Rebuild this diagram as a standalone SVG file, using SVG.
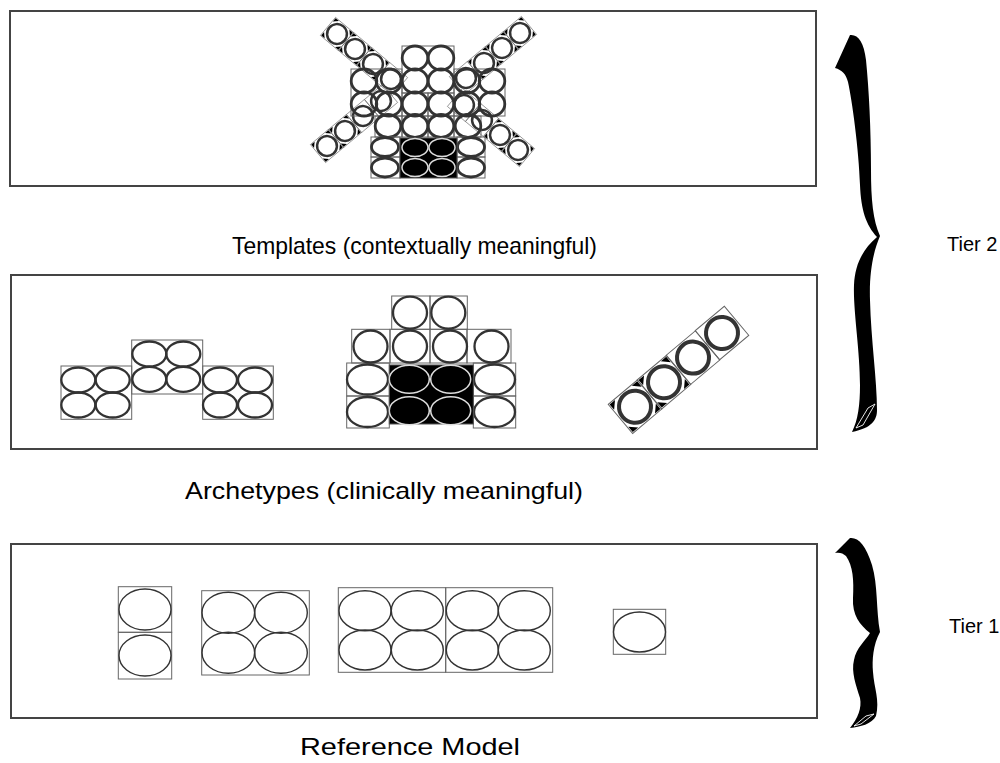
<svg xmlns="http://www.w3.org/2000/svg" xmlns:xlink="http://www.w3.org/1999/xlink" width="1000" height="763" viewBox="0 0 1000 763">
<style>
.frame{fill:none;stroke:#444;stroke-width:2}
.cell{fill:none;stroke:#666;stroke-width:1}
.ring{fill:none;stroke:#333;stroke-width:2.3}
.ringT{fill:none;stroke:#333;stroke-width:2.8}
.ringR{fill:none;stroke:#333;stroke-width:1.4}
.blk{fill:#000;stroke:#555;stroke-width:1}
.ringW{fill:#000;stroke:#ddd;stroke-width:1.5}
.lbl{font-family:"Liberation Sans",Arial,sans-serif;font-size:24px;fill:#000}
.tier{font-family:"Liberation Sans",Arial,sans-serif;font-size:20px;fill:#000}
.brace{fill:#000}
.glint{fill:none;stroke:#fff;stroke-width:0.9}
</style>
<defs>
<g id="c1">
<rect x="-19" y="-19" width="38" height="38" class="cell"/>
<path d="M-18,-18 h7 l-7,7z M18,-18 h-7 l7,7z M18,18 h-7 l7,-7z M-18,18 h7 l-7,-7z" fill="#000"/>
<circle r="16" fill="none" stroke="#333" stroke-width="4"/>
</g>
<g id="c0">
<rect x="-19" y="-19" width="38" height="38" class="cell"/>
<circle r="16" fill="none" stroke="#333" stroke-width="4"/>
</g>
</defs>

<g id="templates">
<rect class="frame" x="10" y="11" width="806" height="175"/>
<g id="chains">
<use xlink:href="#c1" transform="translate(337,34) rotate(40) scale(0.62)"/>
<use xlink:href="#c1" transform="translate(355,49) rotate(40) scale(0.62)"/>
<use xlink:href="#c1" transform="translate(373,64) rotate(40) scale(0.62)"/>
<use xlink:href="#c0" transform="translate(391,79) rotate(40) scale(0.62)"/>
<use xlink:href="#c1" transform="translate(520,33) rotate(-40) scale(0.62)"/>
<use xlink:href="#c1" transform="translate(502,48) rotate(-40) scale(0.62)"/>
<use xlink:href="#c1" transform="translate(484,63) rotate(-40) scale(0.62)"/>
<use xlink:href="#c0" transform="translate(466,78) rotate(-40) scale(0.62)"/>
<use xlink:href="#c1" transform="translate(327,146) rotate(-40) scale(0.62)"/>
<use xlink:href="#c1" transform="translate(345,131) rotate(-40) scale(0.62)"/>
<use xlink:href="#c0" transform="translate(363,116) rotate(-40) scale(0.62)"/>
<use xlink:href="#c0" transform="translate(381,101) rotate(-40) scale(0.62)"/>
<use xlink:href="#c1" transform="translate(518,150) rotate(40) scale(0.62)"/>
<use xlink:href="#c1" transform="translate(500,135) rotate(40) scale(0.62)"/>
<use xlink:href="#c0" transform="translate(482,120) rotate(40) scale(0.62)"/>
<use xlink:href="#c0" transform="translate(464,105) rotate(40) scale(0.62)"/>
</g>
<rect class="cell" x="402" y="46" width="52" height="47"/>
<rect class="cell" x="351" y="69" width="51" height="47"/>
<rect class="cell" x="454" y="69" width="51" height="47"/>
<rect class="cell" x="402" y="93" width="26" height="23"/>
<rect class="cell" x="428" y="93" width="26" height="23"/>
<rect class="cell" x="375" y="116" width="27" height="21"/>
<rect class="cell" x="402" y="116" width="26" height="21"/>
<rect class="cell" x="428" y="116" width="26" height="21"/>
<rect class="cell" x="454" y="116" width="27" height="21"/>
<ellipse class="ringT" cx="415" cy="58" rx="12.8" ry="12"/>
<ellipse class="ringT" cx="441" cy="58" rx="12.8" ry="12"/>
<ellipse class="ringT" cx="415" cy="81" rx="12.8" ry="12"/>
<ellipse class="ringT" cx="441" cy="81" rx="12.8" ry="12"/>
<ellipse class="ringT" cx="364" cy="81" rx="12.8" ry="12"/>
<ellipse class="ringT" cx="389" cy="81" rx="12.8" ry="12"/>
<ellipse class="ringT" cx="364" cy="104" rx="12.8" ry="12"/>
<ellipse class="ringT" cx="389" cy="104" rx="12.8" ry="12"/>
<ellipse class="ringT" cx="467" cy="81" rx="12.8" ry="12"/>
<ellipse class="ringT" cx="492" cy="81" rx="12.8" ry="12"/>
<ellipse class="ringT" cx="467" cy="104" rx="12.8" ry="12"/>
<ellipse class="ringT" cx="492" cy="104" rx="12.8" ry="12"/>
<ellipse class="ringT" cx="415" cy="104" rx="12.8" ry="12"/>
<ellipse class="ringT" cx="441" cy="104" rx="12.8" ry="12"/>
<ellipse class="ringT" cx="388" cy="126" rx="12.8" ry="11.5"/>
<ellipse class="ringT" cx="415" cy="126" rx="12.8" ry="11.5"/>
<ellipse class="ringT" cx="441" cy="126" rx="12.8" ry="11.5"/>
<ellipse class="ringT" cx="468" cy="126" rx="12.8" ry="11.5"/>
<rect class="cell" x="371" y="137" width="29" height="20"/>
<rect class="cell" x="371" y="157" width="29" height="21"/>
<rect class="cell" x="457" y="137" width="28" height="20"/>
<rect class="cell" x="457" y="157" width="28" height="21"/>
<ellipse class="ringT" cx="385" cy="147" rx="13.5" ry="9.5"/>
<ellipse class="ringT" cx="385" cy="167.5" rx="13.5" ry="9.5"/>
<ellipse class="ringT" cx="471" cy="147" rx="13.5" ry="9.5"/>
<ellipse class="ringT" cx="471" cy="167.5" rx="13.5" ry="9.5"/>
<rect class="blk" x="400" y="138" width="57" height="40"/>
<ellipse class="ringW" cx="415" cy="147.5" rx="13" ry="9"/>
<ellipse class="ringW" cx="442" cy="147.5" rx="13" ry="9"/>
<ellipse class="ringW" cx="415" cy="167.5" rx="13" ry="9"/>
<ellipse class="ringW" cx="442" cy="167.5" rx="13" ry="9"/>
</g>

<g id="archetypes">
<rect class="frame" x="11" y="275" width="806" height="174"/>
<g id="arch-left">
<rect class="cell" x="61" y="366" width="70.7" height="53.3"/>
<rect class="cell" x="131.7" y="340" width="71" height="54"/>
<rect class="cell" x="202.7" y="366" width="70.6" height="53.3"/>
<ellipse class="ring" cx="78.3" cy="380" rx="17" ry="12.5"/>
<ellipse class="ring" cx="112.7" cy="380" rx="17" ry="12.5"/>
<ellipse class="ring" cx="78.3" cy="405" rx="17" ry="12.5"/>
<ellipse class="ring" cx="112.7" cy="405" rx="17" ry="12.5"/>
<ellipse class="ring" cx="149.3" cy="354" rx="17" ry="12.5"/>
<ellipse class="ring" cx="183.3" cy="354" rx="17" ry="12.5"/>
<ellipse class="ring" cx="149.3" cy="379.3" rx="17" ry="12.5"/>
<ellipse class="ring" cx="183.3" cy="379.3" rx="17" ry="12.5"/>
<ellipse class="ring" cx="220" cy="380" rx="17" ry="12.5"/>
<ellipse class="ring" cx="255" cy="380" rx="17" ry="12.5"/>
<ellipse class="ring" cx="220" cy="405" rx="17" ry="12.5"/>
<ellipse class="ring" cx="255" cy="405" rx="17" ry="12.5"/>
</g>
<g id="arch-mid">
<rect class="cell" x="391.7" y="296" width="38.3" height="33.3"/>
<rect class="cell" x="430" y="296" width="37.3" height="33.3"/>
<rect class="cell" x="351.7" y="329.3" width="38.3" height="33.7"/>
<rect class="cell" x="390" y="329.3" width="40" height="33.7"/>
<rect class="cell" x="430" y="329.3" width="37" height="33.7"/>
<rect class="cell" x="467" y="329.3" width="44" height="33.7"/>
<rect class="cell" x="346.7" y="363" width="42.6" height="33"/>
<rect class="cell" x="346.7" y="396" width="42.6" height="32"/>
<rect class="cell" x="473.3" y="363" width="42.4" height="33"/>
<rect class="cell" x="473.3" y="396" width="42.4" height="32"/>
<ellipse class="ring" cx="410" cy="312.7" rx="17" ry="16"/>
<ellipse class="ring" cx="448.3" cy="312.7" rx="17" ry="16"/>
<ellipse class="ring" cx="370.5" cy="346.5" rx="17" ry="16"/>
<ellipse class="ring" cx="410" cy="346.5" rx="17" ry="16"/>
<ellipse class="ring" cx="450" cy="346.5" rx="17" ry="16"/>
<ellipse class="ring" cx="491.5" cy="346.5" rx="17" ry="16"/>
<ellipse class="ring" cx="367.5" cy="379.5" rx="20.5" ry="15"/>
<ellipse class="ring" cx="367.5" cy="412" rx="20.5" ry="15"/>
<ellipse class="ring" cx="494.5" cy="379.5" rx="20.5" ry="15"/>
<ellipse class="ring" cx="494.5" cy="412" rx="20.5" ry="15"/>
<rect class="blk" x="389.3" y="365" width="84" height="59"/>
<ellipse class="ringW" cx="409.3" cy="379.3" rx="20" ry="14"/>
<ellipse class="ringW" cx="450.7" cy="379.3" rx="20" ry="14"/>
<ellipse class="ringW" cx="409.3" cy="410.7" rx="20" ry="14"/>
<ellipse class="ringW" cx="450.7" cy="410.7" rx="20" ry="14"/>
</g>
<g id="arch-right">
<use xlink:href="#c1" transform="translate(635,406.7) rotate(-40)"/>
<use xlink:href="#c1" transform="translate(664,382.2) rotate(-40)"/>
<use xlink:href="#c0" transform="translate(693,357.6) rotate(-40)"/>
<use xlink:href="#c0" transform="translate(722,333) rotate(-40)"/>
</g>
</g>

<g id="reference-model">
<rect class="frame" x="11" y="544" width="806" height="174"/>
<rect class="cell" x="118.3" y="586.7" width="53.4" height="45.6"/>
<rect class="cell" x="118.3" y="632.3" width="53.4" height="46.7"/>
<ellipse class="ringR" cx="145" cy="609.5" rx="26" ry="20.5"/>
<ellipse class="ringR" cx="145" cy="655.5" rx="26" ry="20.5"/>
<rect class="cell" x="201.7" y="590.7" width="107.6" height="84.3"/>
<ellipse class="ringR" cx="228.3" cy="612.7" rx="26.3" ry="20.5"/>
<ellipse class="ringR" cx="281" cy="612.7" rx="26.3" ry="20.5"/>
<ellipse class="ringR" cx="228.3" cy="652.7" rx="26.3" ry="20.5"/>
<ellipse class="ringR" cx="281" cy="652.7" rx="26.3" ry="20.5"/>
<rect class="cell" x="338.3" y="587.7" width="107.4" height="84.6"/>
<rect class="cell" x="445.7" y="587.7" width="107" height="84.6"/>
<ellipse class="ringR" cx="365" cy="610.7" rx="26" ry="20"/>
<ellipse class="ringR" cx="417.3" cy="610.7" rx="26" ry="20"/>
<ellipse class="ringR" cx="472.3" cy="610.7" rx="26" ry="20"/>
<ellipse class="ringR" cx="524.3" cy="610.7" rx="26" ry="20"/>
<ellipse class="ringR" cx="365" cy="650" rx="26" ry="20"/>
<ellipse class="ringR" cx="417.3" cy="650" rx="26" ry="20"/>
<ellipse class="ringR" cx="472.3" cy="650" rx="26" ry="20"/>
<ellipse class="ringR" cx="524.3" cy="650" rx="26" ry="20"/>
<rect class="cell" x="613.3" y="609.3" width="52.4" height="45"/>
<ellipse class="ringR" cx="639.5" cy="632" rx="26" ry="20"/>
</g>

<g id="braces">
<path class="brace" d="M850,35 C858,34 864,42 866,60 C869,90 871,130 871,170 C871,200 873,220 880,236 C874,250 869,270 870,300 C871,340 877,380 877,410 C877,420 872,428 852,432 C858,420 860,405 860,385 C860,350 853,310 854,285 C855,265 862,250 877,237 C866,225 861,210 860,185 C859,150 852,100 848,82 C846,74 842,70 835,68 Z"/>
<path class="glint" d="M856,428 L868,408 L875,404 L863,425 Z"/>
<path class="brace" d="M850,538 C858,537 866,545 872,565 C878,585 876,610 880,632 C873,645 872,660 873,672 C874,688 880,700 876,716 C872,724 860,727 850,728 C858,718 862,708 860,698 C856,685 851,672 854,660 C856,648 866,640 870,633 C860,625 852,615 853,598 C854,580 853,566 846,556 C843,553 839,552 835,553 Z"/>
<path class="glint" d="M854,726 L866,716 L874,714 L861,724 Z"/>
</g>

<g id="labels">
<text class="lbl" x="232" y="254" textLength="365" lengthAdjust="spacingAndGlyphs">Templates (contextually meaningful)</text>
<text class="lbl" x="185" y="499" textLength="398" lengthAdjust="spacingAndGlyphs">Archetypes (clinically meaningful)</text>
<text class="lbl" x="300" y="755" textLength="220" lengthAdjust="spacingAndGlyphs">Reference Model</text>
<text class="tier" x="947" y="251">Tier 2</text>
<text class="tier" x="949" y="633">Tier 1</text>
</g>
</svg>
